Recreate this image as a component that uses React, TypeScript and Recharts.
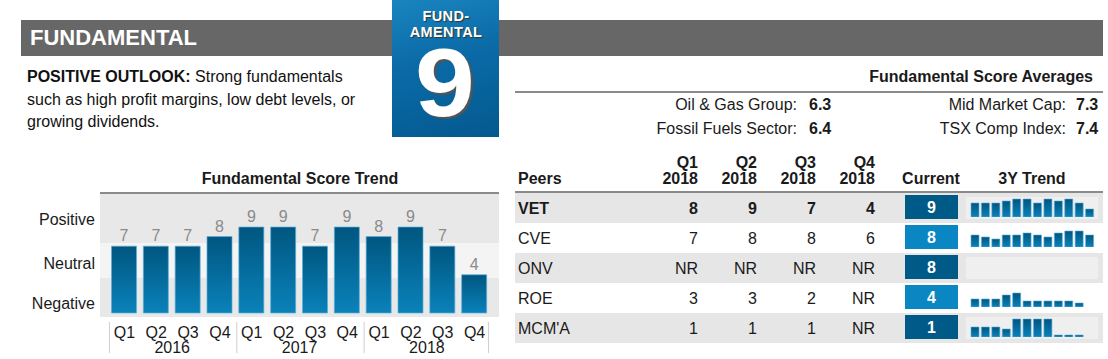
import type { ReactNode } from "react";
import { Bar, BarChart, CartesianGrid, LabelList, XAxis, YAxis } from "recharts";

const quarters = ["Q1", "Q2", "Q3", "Q4", "Q1", "Q2", "Q3", "Q4", "Q1", "Q2", "Q3", "Q4"];
const years = ["2016", "2017", "2018"];
const trendScores = [7, 7, 7, 8, 9, 9, 7, 9, 8, 9, 7, 4];
const outlookTicks = [1.05, 5.24, 9.84];
const outlookLabels = ["Negative", "Neutral", "Positive"];
const bandEdges = [-0.42, 3.67, 7.33, 12.67];

const averageLabels = ["Oil & Gas Group:", "Fossil Fuels Sector:", "Mid Market Cap:", "TSX Comp Index:"];
const averageValues = ["6.3", "6.4", "7.3", "7.4"];

const peers = ["VET", "CVE", "ONV", "ROE", "MCM'A"];
const quarterHeaders = ["Q1", "Q2", "Q3", "Q4"];
const q1Scores = ["8", "7", "NR", "3", "1"];
const q2Scores = ["9", "8", "NR", "3", "1"];
const q3Scores = ["7", "8", "NR", "2", "1"];
const q4Scores = ["4", "6", "NR", "NR", "NR"];
const currentScores = [9, 8, 8, 4, 1];
const vetTrend = [7, 7, 7, 8, 9, 9, 7, 9, 8, 9, 7, 4];
const cveTrend = [6, 5, 4, 6, 6, 7, 6, 5, 7, 8, 8, 6];
const onvTrend: (number | null)[] = [null, null, null, null, null, null, null, null, null, null, null, null];
const roeTrend = [4, 4, 4, 6, 7, 3, 3, 3, 3, 3, 2, null];
const mcmTrend = [5, 5, 5, 4, 9, 9, 9, 9, 1, 1, 1, null];

const FONT = 'Arial, "Liberation Sans", sans-serif';
const scoreColumns = [q1Scores, q2Scores, q3Scores, q4Scores];
const peerTrends = [vetTrend, cveTrend, onvTrend, roeTrend, mcmTrend];
const bandFills = ["#e8e8e8", "#f4f4f4", "#e8e8e8"];
const colRight = [698, 757, 816, 875];
const band = 383 / 12;

type TxtProps = {
  x: number;
  y: number;
  align?: "left" | "right" | "center";
  size?: number;
  bold?: boolean;
  color?: string;
  lh?: number;
  spacing?: number;
  children: ReactNode;
};

function Txt({ x, y, align = "left", size = 16, bold, color = "#1a1a1a", lh, spacing, children }: TxtProps) {
  const lineH = lh ?? Math.round(size * 1.2);
  const w = 400;
  const left = align === "left" ? x : align === "right" ? x - w : x - w / 2;
  return (
    <div
      style={{
        position: "absolute",
        left,
        top: y - lineH / 2,
        width: w,
        lineHeight: `${lineH}px`,
        fontSize: size,
        fontWeight: bold ? 700 : 400,
        letterSpacing: spacing,
        color,
        textAlign: align,
        whiteSpace: "nowrap",
      }}
    >
      {children}
    </div>
  );
}

function BlueGradient({ id }: { id: string }) {
  return (
    <defs>
      <linearGradient id={id} x1="0" y1="0" x2="0" y2="1">
        <stop offset="0%" stopColor="#005680" />
        <stop offset="100%" stopColor="#0a82ba" />
      </linearGradient>
    </defs>
  );
}

function QuarterTick(props: any) {
  const { x, y, payload, index } = props;
  return (
    <g>
      <text x={x} y={y + 15} textAnchor="middle" dominantBaseline="central" fontSize={16} fill="#1a1a1a" fontFamily={FONT}>
        {payload.value}
      </text>
      {index % 4 === 1 && (
        <text x={x + band / 2} y={y + 30} textAnchor="middle" dominantBaseline="central" fontSize={16} fill="#1a1a1a" fontFamily={FONT}>
          {years[(index - 1) / 4]}
        </text>
      )}
      {index % 4 === 0 && <line x1={x - band / 2 + 1} x2={x - band / 2 + 1} y1={y + 5} y2={y + 36} stroke="#cfcfcf" />}
      {index === quarters.length - 1 && (
        <line x1={x + band / 2 - 2} x2={x + band / 2 - 2} y1={y + 5} y2={y + 36} stroke="#cfcfcf" />
      )}
    </g>
  );
}

function Spark({ values, id }: { values: (number | null)[]; id: string }) {
  const data = values.map((v, i) => ({ i, v }));
  return (
    <BarChart width={132} height={22} data={data} margin={{ top: 0, right: 3, bottom: 2, left: 4 }}>
      <BlueGradient id={id} />
      <XAxis dataKey="i" hide />
      <YAxis domain={[0, 10]} hide allowDataOverflow />
      <Bar dataKey="v" barSize={8} fill={`url(#${id})`} stroke="#5aaed8" strokeWidth={1} strokeOpacity={0.6} isAnimationActive={false} />
    </BarChart>
  );
}

// map a score onto the plot's pixel space (uses the axis scale when it is handed over)
function toPixel(props: any, v: number) {
  const scale = props?.yAxis?.scale;
  if (typeof scale === "function") return Math.round(scale(v));
  const top = props?.offset?.top ?? 42;
  const h = props?.offset?.height ?? 125;
  const [min, max] = [bandEdges[0], bandEdges[3]];
  return Math.round(top + ((max - v) / (max - min)) * h);
}
const bandPoints = (props: any) => bandEdges.slice(1).reverse().map((v) => toPixel(props, v));
const topPoint = (props: any) => [toPixel(props, bandEdges[3]) + 1];

export default function App() {
  const trendData = quarters.map((q, i) => ({ q, v: trendScores[i] }));
  return (
    <div
      style={{
        position: "absolute",
        left: 0,
        top: 0,
        width: 1108,
        height: 359,
        overflow: "hidden",
        background: "#fff",
        fontFamily: FONT,
      }}
    >
      {/* title bar */}
      <div style={{ position: "absolute", left: 21, top: 20, width: 1082, height: 36, background: "#676767" }} />
      <Txt x={30} y={38} size={22} bold color="#fff">
        FUNDAMENTAL
      </Txt>

      {/* badge */}
      <div
        style={{
          position: "absolute",
          left: 392,
          top: 0,
          width: 107,
          height: 137,
          background: "linear-gradient(165deg, #1a85c0 0%, #0b6ca8 40%, #04598f 100%)",
        }}
      />
      <div style={{ textShadow: "1px 1px 1px #333" }}>
        <Txt x={446} y={16.5} size={14.5} bold color="#fff" align="center" lh={13} spacing={0.4}>
          FUND-
        </Txt>
        <Txt x={446} y={32.8} size={14.5} bold color="#fff" align="center" lh={13} spacing={0.4}>
          AMENTAL
        </Txt>
      </div>
      <div
        style={{
          position: "absolute",
          left: 345,
          top: 43,
          width: 200,
          height: 80,
          lineHeight: "80px",
          textAlign: "center",
          fontSize: 96,
          fontWeight: 700,
          color: "#fff",
          textShadow: "2px 2px 1px #555",
          transform: "scaleX(1.12)",
        }}
      >
        9
      </div>

      {/* description */}
      <div
        style={{
          position: "absolute",
          left: 27,
          top: 66,
          fontSize: 16,
          lineHeight: "22.5px",
          color: "#111",
          whiteSpace: "nowrap",
        }}
      >
        <b>POSITIVE OUTLOOK:</b> Strong fundamentals
        <br />
        such as high profit margins, low debt levels, or
        <br />
        growing dividends.
      </div>

      {/* averages */}
      <Txt x={1093} y={76} bold align="right">
        Fundamental Score Averages
      </Txt>
      <div style={{ position: "absolute", left: 515, top: 91, width: 588, height: 2, background: "#8a8a8a" }} />
      {averageLabels.map((label, i) => {
        const col = Math.floor(i / 2);
        const y = 104 + (i % 2) * 24;
        return (
          <div key={label}>
            <Txt x={col === 0 ? 797 : 1066} y={y} align="right">
              {label}
            </Txt>
            <Txt x={col === 0 ? 809 : 1076} y={y} bold>
              {averageValues[i]}
            </Txt>
          </div>
        );
      })}

      {/* trend chart */}
      <Txt x={300} y={178} bold align="center">
        Fundamental Score Trend
      </Txt>
      <div style={{ position: "absolute", left: 0, top: 150 }}>
        <BarChart width={510} height={209} data={trendData} margin={{ top: 42, right: 11, bottom: 0, left: 0 }}>
          <BlueGradient id="trendGrad" />
          <CartesianGrid
            vertical={false}
            stroke="none"
            horizontalFill={bandFills}
            fillOpacity={1}
            horizontalCoordinatesGenerator={bandPoints}
          />
          <CartesianGrid vertical={false} stroke="#8a8a8a" strokeWidth={2} horizontalCoordinatesGenerator={topPoint} />
          <XAxis
            dataKey="q"
            interval={0}
            padding={{ left: 8.5, right: 8.5 }}
            axisLine={false}
            tickLine={false}
            tickSize={0}
            tickMargin={0}
            height={42}
            tick={<QuarterTick />}
          />
          <YAxis
            type="number"
            domain={[bandEdges[0], bandEdges[3]]}
            allowDataOverflow
            ticks={outlookTicks}
            tickFormatter={(_v: number, i: number) => outlookLabels[i]}
            width={100}
            axisLine={false}
            tickLine={false}
            tickSize={0}
            tickMargin={5}
            tick={{ fill: "#1a1a1a", fontSize: 16, fontFamily: FONT }}
          />
          <Bar dataKey="v" barSize={25} fill="url(#trendGrad)" stroke="#5aaed8" strokeWidth={1} strokeOpacity={0.7} isAnimationActive={false}>
            <LabelList dataKey="v" position="top" offset={5} fill="#8a8a8a" fontSize={16} fontFamily={FONT} />
          </Bar>
        </BarChart>
      </div>

      {/* peers table */}
      <Txt x={518} y={178} bold>
        Peers
      </Txt>
      {quarterHeaders.map((q, i) => (
        <div key={q}>
          <Txt x={colRight[i]} y={163} bold align="right" lh={16}>
            {q}
          </Txt>
          <Txt x={colRight[i]} y={179} bold align="right" lh={16}>
            2018
          </Txt>
        </div>
      ))}
      <Txt x={931} y={178} bold align="center">
        Current
      </Txt>
      <Txt x={1032} y={178} bold align="center">
        3Y Trend
      </Txt>
      <div style={{ position: "absolute", left: 515, top: 191, width: 588, height: 2, background: "#8a8a8a" }} />
      {peers.map((peer, r) => {
        const top = 193 + r * 30;
        const grey = r % 2 === 0;
        return (
          <div key={peer}>
            <div style={{ position: "absolute", left: 515, top, width: 588, height: 30, background: grey ? "#e6e6e6" : "#fff" }} />
            <Txt x={518} y={top + 15} bold={r === 0}>
              {peer}
            </Txt>
            {scoreColumns.map((col, c) => (
              <Txt key={c} x={colRight[c]} y={top + 15} bold={r === 0} align="right">
                {col[r]}
              </Txt>
            ))}
            <div
              style={{
                position: "absolute",
                left: 905,
                top: top + 2,
                width: 53,
                height: 24,
                background: grey ? "#005a87" : "#0a86c2",
              }}
            />
            <Txt x={931.5} y={top + 14} bold color="#fff" align="center">
              {currentScores[r]}
            </Txt>
            <div
              style={{
                position: "absolute",
                left: 966,
                top: top + 4,
                width: 132,
                height: 22,
                background: "rgba(255,255,255,0.35)",
              }}
            >
              <Spark values={peerTrends[r]} id={`spark${r}`} />
            </div>
          </div>
        );
      })}
    </div>
  );
}
